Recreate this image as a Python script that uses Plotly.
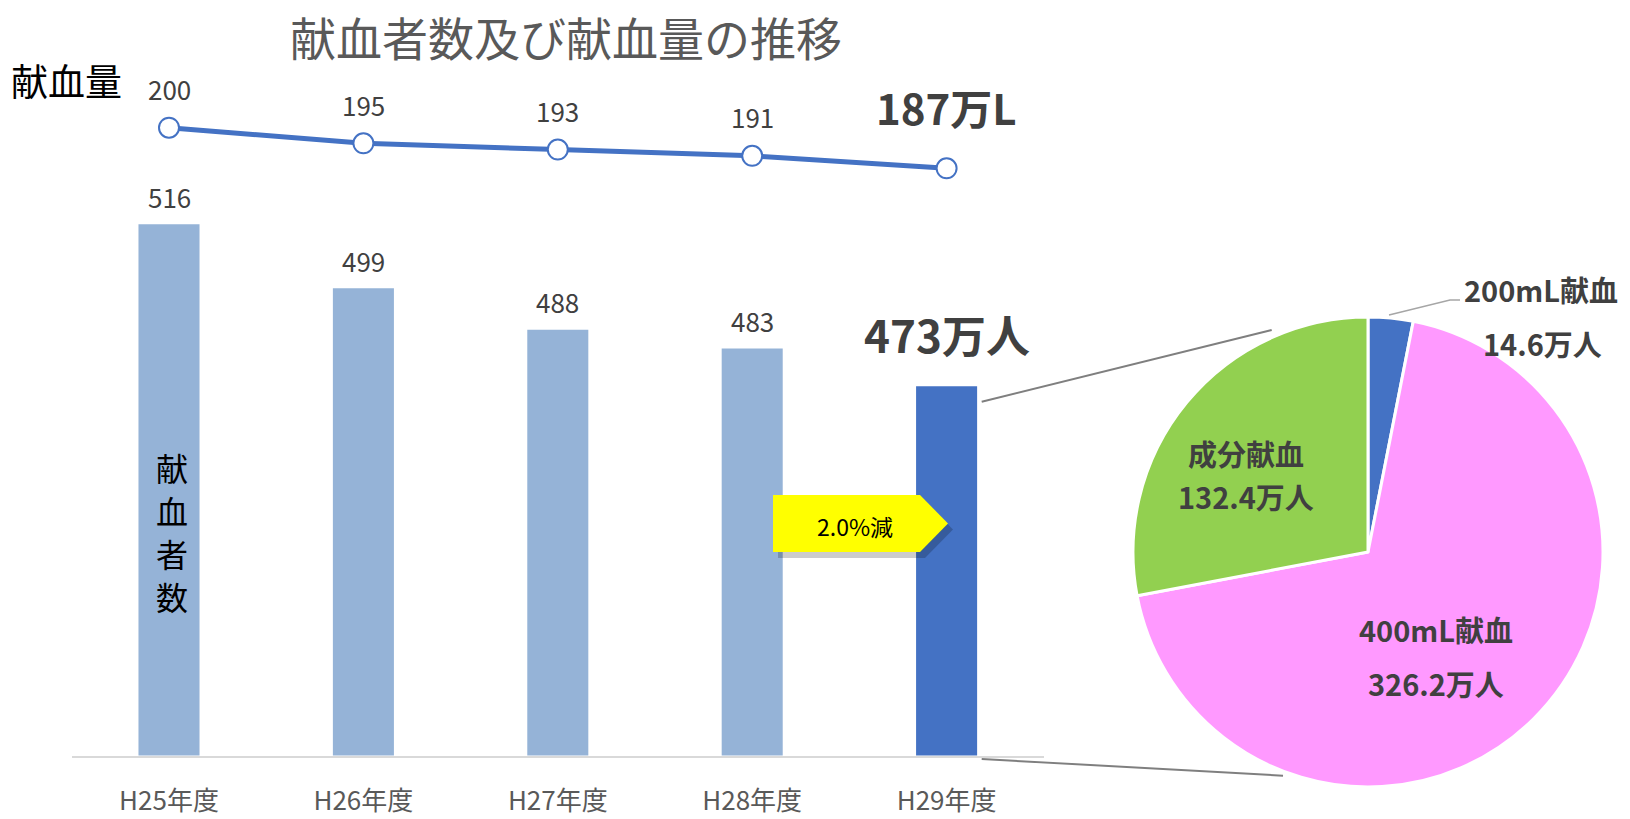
import plotly.graph_objects as go

# ---- data ----
years = ["H25年度", "H26年度", "H27年度", "H28年度", "H29年度"]
donors = [516, 499, 488, 483, 473]          # 献血者数 (万人)
volume = [200, 195, 193, 191, 187]          # 献血量 (万L)
pie_labels = ["200mL献血", "400mL献血", "成分献血"]
pie_values = [14.6, 326.2, 132.4]
pie_colors = ["#4472C4", "#FF99FF", "#92D050"]
bar_colors = ["#95B3D7", "#95B3D7", "#95B3D7", "#95B3D7", "#4472C4"]
change_text = "2.0%減"
vertical_label = "献血者数"

W, H = 1630, 819
FONT = "Noto Sans CJK JP"


def X(px):
    return px / W


def Y(py):
    return 1 - py / H


# bar axis geometry
bar_min, bar_max = 375, 540
k1 = (387 - 225) / 43.0
base_px = 755.5
bar_top_px = base_px - (bar_max - bar_min) * k1
# line axis geometry
k2 = (168.3 - 127.7) / 13.0
line_min, line_max = 150, 210
l_top_px = 127.7 - (line_max - 200) * k2
l_bot_px = 127.7 + (200 - line_min) * k2

x_dom = [X(71.8), X(1043.8)]
cat_range = [-0.5, len(years) - 0.5]

fig = go.Figure()
fig.add_trace(go.Bar(
    x=years, y=donors, marker=dict(color=bar_colors, line=dict(width=0)),
    xaxis="x", yaxis="y", hoverinfo="skip", showlegend=False,
))
fig.add_trace(go.Scatter(
    x=years, y=volume, mode="lines+markers",
    line=dict(color="#4472C4", width=5),
    marker=dict(size=20, color="white", line=dict(color="#4472C4", width=2)),
    xaxis="x2", yaxis="y2", cliponaxis=False, hoverinfo="skip", showlegend=False,
))
cx, cy, r = 1368, 552, 235
fig.add_trace(go.Pie(
    labels=pie_labels, values=pie_values, sort=False, direction="clockwise",
    rotation=0, marker=dict(colors=pie_colors, line=dict(color="white", width=3)),
    textinfo="none", hoverinfo="skip", showlegend=False,
    domain=dict(x=[X(cx - r), X(cx + r)], y=[Y(cy + r), Y(cy - r)]),
))

annotations = []


def ann(x, y, text, size, color="#404040", xref="paper", yref="paper", yshift=0):
    annotations.append(dict(x=x, y=y, xref=xref, yref=yref, text=text, showarrow=False,
                            xanchor="center", yanchor="middle", yshift=yshift,
                            font=dict(size=size, color=color, family=FONT)))


# bar value labels
for i, (c, v) in enumerate(zip(years, donors)):
    if i < len(years) - 1:
        ann(c, v, str(v), 26, xref="x", yref="y", yshift=28)
    else:
        ann(c, v, f"<b>{v}万人</b>", 44, xref="x", yref="y", yshift=52)
# line value labels
for i, (c, v) in enumerate(zip(years, volume)):
    if i < len(years) - 1:
        ann(c, v, str(v), 26, xref="x2", yref="y2", yshift=39)
    else:
        ann(c, v, f"<b>{v}万L</b>", 42, xref="x2", yref="y2", yshift=61.6)

# title and side labels
ann(X(566), Y(36), "献血者数及び献血量の推移", 46, color="#595959")
ann(X(66), Y(80), "献血量", 37, color="black")
for j, ch in enumerate(vertical_label):
    ann(X(171.5), Y(467 + 43 * j), ch, 32, color="black")
ann(X(855), Y(526), change_text, 23, color="black")

# pie labels
pie_label_pos = [(1541, 289, 1542, 343), (1436, 629, 1436, 683), (1246, 453, 1246, 496)]
for name, val, (x1, y1, x2, y2) in zip(pie_labels, pie_values, pie_label_pos):
    ann(X(x1), Y(y1), f"<b>{name}</b>", 29)
    ann(X(x2), Y(y2), f"<b>{val}万人</b>", 29)


def path(points):
    return "M" + " L".join(f"{X(a):.5f},{Y(b):.5f}" for a, b in points) + " Z"


arrow_pts = [(773, 495), (920, 495), (948, 523.5), (920, 552), (773, 552)]
shadow_pts = [(a + 5, b + 6) for a, b in arrow_pts]

shapes = [
    dict(type="line", xref="paper", yref="paper", x0=X(981.7), y0=Y(401.7),
         x1=X(1271.7), y1=Y(330), line=dict(color="#7F7F7F", width=2)),
    dict(type="line", xref="paper", yref="paper", x0=X(981.7), y0=Y(759),
         x1=X(1283), y1=Y(775.7), line=dict(color="#7F7F7F", width=2)),
    dict(type="path", xref="paper", yref="paper",
         path="M" + f"{X(1389):.5f},{Y(315):.5f} L{X(1450):.5f},{Y(300):.5f} L{X(1460):.5f},{Y(300):.5f}",
         line=dict(color="#A6A6A6", width=1.5)),
    dict(type="path", xref="paper", yref="paper", path=path(shadow_pts),
         fillcolor="rgba(0,0,0,0.2)", line=dict(width=0), layer="above"),
    dict(type="path", xref="paper", yref="paper", path=path(arrow_pts),
         fillcolor="#FFFF00", line=dict(width=0), layer="above"),
]

fig.update_layout(
    width=W, height=H, margin=dict(l=0, r=0, t=0, b=0, pad=0, autoexpand=False),
    paper_bgcolor="white", plot_bgcolor="rgba(0,0,0,0)",
    font=dict(family=FONT),
    bargap=0.686, showlegend=False,
    xaxis=dict(domain=x_dom, anchor="y", type="category", categoryarray=years,
               range=cat_range, automargin=False,
               showline=True, linecolor="#D9D9D9", linewidth=2,
               showgrid=False, zeroline=False,
               ticks="outside", ticklen=21, tickcolor="rgba(0,0,0,0)",
               tickfont=dict(size=26, color="#595959", family=FONT)),
    yaxis=dict(domain=[Y(base_px), Y(bar_top_px)], anchor="x", range=[bar_min, bar_max],
               visible=False, showgrid=False, zeroline=False, automargin=False),
    xaxis2=dict(domain=x_dom, anchor="y2", type="category", categoryarray=years,
                range=cat_range, visible=False, showgrid=False, zeroline=False,
                automargin=False),
    yaxis2=dict(domain=[Y(l_bot_px), Y(l_top_px)], anchor="x2", range=[line_min, line_max],
                visible=False, showgrid=False, zeroline=False, automargin=False),
    annotations=annotations,
    shapes=shapes,
)

fig.write_html("out.html", config={"displayModeBar": False},
               post_script="document.body.style.margin='0';")
